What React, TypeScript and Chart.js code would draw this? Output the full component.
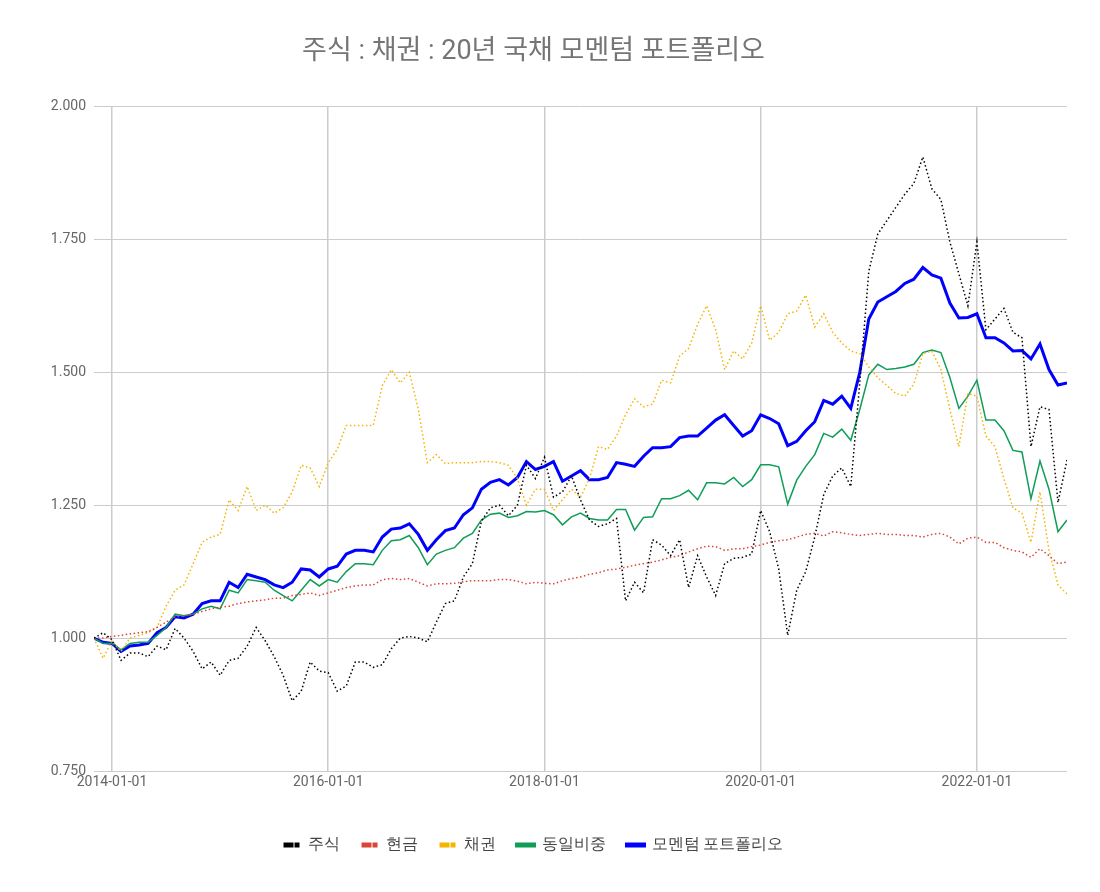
import React, { useEffect, useRef } from "react";
import { Chart, registerables } from "chart.js";
Chart.register(...registerables);

const tickIdx = [2, 26, 50, 74, 98];
const tickLabels = ["2014-01-01", "2016-01-01", "2018-01-01", "2020-01-01", "2022-01-01"];

const stock = [1.0,1.01,.997,.958,.972,.972,.965,.985,.978,1.018,
1.0,.975,.942,.955,.93,.958,.962,.985,1.02,.995,
.965,.93,.882,.9,.955,.938,.935,.9,.91,.955,
.955,.945,.95,.98,1.0,1.003,1.0,.993,1.03,1.065,
1.07,1.115,1.14,1.22,1.245,1.25,1.23,1.25,1.325,1.3,
1.34,1.265,1.275,1.305,1.26,1.222,1.21,1.215,1.225,1.07,
1.105,1.085,1.185,1.175,1.155,1.185,1.095,1.155,1.115,1.08,
1.14,1.15,1.152,1.158,1.24,1.2,1.13,1.005,1.09,1.125,
1.19,1.27,1.305,1.32,1.285,1.48,1.69,1.76,1.785,1.81,
1.835,1.855,1.905,1.845,1.825,1.745,1.685,1.625,1.745,1.58,
1.6,1.62,1.575,1.565,1.36,1.435,1.43,1.255,1.335];
const cash = [1.0,1.0,1.003,1.005,1.008,1.01,1.012,1.02,1.03,1.04,
1.042,1.045,1.05,1.055,1.058,1.06,1.065,1.068,1.07,1.072,
1.075,1.075,1.08,1.082,1.085,1.08,1.085,1.09,1.095,1.098,
1.1,1.1,1.11,1.112,1.11,1.112,1.105,1.098,1.102,1.102,
1.103,1.106,1.108,1.108,1.108,1.11,1.11,1.107,1.102,1.105,
1.103,1.102,1.108,1.112,1.115,1.12,1.123,1.128,1.13,1.133,
1.137,1.14,1.143,1.147,1.152,1.155,1.162,1.168,1.173,1.172,
1.165,1.168,1.168,1.172,1.175,1.18,1.183,1.185,1.19,1.195,
1.197,1.192,1.2,1.198,1.195,1.193,1.195,1.197,1.195,1.195,
1.193,1.193,1.19,1.195,1.197,1.19,1.177,1.188,1.19,1.18,
1.18,1.17,1.165,1.162,1.152,1.168,1.155,1.14,1.143];
const bond = [1.0,.962,.995,.975,1.0,1.005,1.01,1.02,1.06,1.09,
1.1,1.14,1.18,1.19,1.195,1.26,1.24,1.285,1.24,1.25,
1.235,1.245,1.275,1.325,1.32,1.285,1.33,1.355,1.4,1.4,
1.4,1.4,1.475,1.505,1.48,1.5,1.43,1.33,1.345,1.328,
1.33,1.33,1.33,1.332,1.332,1.33,1.325,1.3,1.25,1.28,
1.28,1.24,1.26,1.28,1.265,1.3,1.36,1.355,1.38,1.42,
1.45,1.435,1.44,1.485,1.48,1.53,1.545,1.59,1.625,1.58,
1.505,1.54,1.525,1.555,1.625,1.56,1.575,1.61,1.615,1.645,
1.585,1.61,1.575,1.555,1.54,1.535,1.51,1.49,1.475,1.46,
1.455,1.478,1.535,1.54,1.505,1.43,1.36,1.46,1.455,1.38,
1.36,1.3,1.245,1.235,1.18,1.275,1.165,1.1,1.083];
const equal = [1.0,.99,.99,.978,.99,.992,.992,1.005,1.02,1.045,
1.042,1.045,1.055,1.06,1.055,1.09,1.085,1.11,1.108,1.105,
1.09,1.08,1.07,1.09,1.11,1.098,1.11,1.105,1.125,1.14,
1.14,1.138,1.165,1.183,1.185,1.193,1.17,1.138,1.158,1.165,
1.17,1.188,1.197,1.222,1.233,1.235,1.227,1.23,1.238,1.237,
1.24,1.232,1.213,1.228,1.235,1.225,1.222,1.222,1.242,1.242,
1.203,1.227,1.228,1.262,1.262,1.268,1.278,1.26,1.292,1.292,
1.29,1.302,1.285,1.298,1.326,1.326,1.322,1.252,1.297,1.323,
1.345,1.385,1.378,1.393,1.372,1.43,1.495,1.515,1.505,1.507,
1.51,1.515,1.537,1.542,1.537,1.49,1.432,1.455,1.485,1.41,
1.41,1.39,1.353,1.35,1.262,1.333,1.28,1.2,1.222];
const momentum = [1.0,.992,.99,.975,.985,.987,.99,1.01,1.02,1.04,
1.038,1.045,1.065,1.07,1.07,1.105,1.095,1.12,1.115,1.11,
1.1,1.095,1.105,1.13,1.128,1.115,1.13,1.135,1.158,1.165,
1.165,1.162,1.19,1.205,1.207,1.215,1.195,1.165,1.185,1.202,
1.207,1.232,1.245,1.28,1.293,1.298,1.288,1.302,1.332,1.317,
1.323,1.332,1.295,1.305,1.315,1.298,1.298,1.302,1.33,1.327,
1.323,1.342,1.358,1.358,1.36,1.377,1.38,1.38,1.395,1.41,
1.42,1.4,1.38,1.39,1.42,1.413,1.403,1.362,1.37,1.39,
1.407,1.447,1.44,1.455,1.432,1.5,1.6,1.632,1.642,1.652,
1.667,1.675,1.697,1.683,1.677,1.63,1.602,1.603,1.61,1.565,
1.565,1.555,1.54,1.541,1.525,1.553,1.505,1.476,1.48];

const toPts = (a: number[]) => a.map((y, i) => ({ x: i, y }));

export default function App() {
  const ref = useRef<HTMLCanvasElement>(null);
  useEffect(() => {
    const font = { family: "Roboto", size: 14 };
    const dotted = (label: string, data: number[], color: string) => ({
      label, data: toPts(data), borderColor: color, backgroundColor: color,
      borderWidth: 1.5, borderDash: [1.5, 2.5], pointRadius: 0, tension: 0,
    });
    const chart = new Chart(ref.current!, {
      type: "line",
      data: {
        datasets: [
          dotted("주식", stock, "#000000"),
          dotted("현금", cash, "#db4437"),
          dotted("채권", bond, "#f4b400"),
          { label: "동일비중", data: toPts(equal), borderColor: "#0f9d58", backgroundColor: "#0f9d58", borderWidth: 1.5, pointRadius: 0, tension: 0 },
          { label: "모멘텀 포트폴리오", data: toPts(momentum), borderColor: "#0000ff", backgroundColor: "#0000ff", borderWidth: 3, pointRadius: 0, tension: 0 },
        ],
      },
      options: {
        animation: false,
        responsive: false,
        layout: { padding: { left: 0, right: 33, top: 0, bottom: 29 } },
        plugins: {
          title: { display: true, text: "주식 : 채권 : 20년 국채 모멘텀 포트폴리오", color: "#757575",
            font: { family: "Roboto, 'Noto Sans CJK KR'", size: 27, weight: "normal" }, padding: { top: 36, bottom: 38 } },
          legend: { position: "bottom", labels: { color: "#444", font: { family: "Roboto", size: 16 }, boxWidth: 16, boxHeight: 0.01, padding: 22,
            generateLabels: (c: any) => c.data.datasets.map((d: any, i: number) => ({
              text: d.label, fillStyle: "rgba(0,0,0,0)", strokeStyle: d.borderColor, lineWidth: 5,
              lineDash: i < 3 ? [5, 6] : [], datasetIndex: i, fontColor: "#444",
            })) } },
          tooltip: { enabled: false },
        },
        scales: {
          x: {
            type: "linear", min: 0, max: 108,
            afterBuildTicks: (s: any) => { s.ticks = tickIdx.map((v) => ({ value: v })); },
            afterFit: (s: any) => { s.height = 44; },
            ticks: { color: "#666", font, maxRotation: 0, autoSkip: false,
              callback: (v: any) => tickLabels[tickIdx.indexOf(Number(v))] ?? "" },
            grid: { color: "#cccccc", drawTicks: false, lineWidth: 1.5 },
            border: { display: false },
          },
          y: {
            min: 0.75, max: 2.0,
            afterFit: (s: any) => { s.width = 94; },
            ticks: { stepSize: 0.25, color: "#666", font, padding: 8, callback: (v: any) => Number(v).toFixed(3) },
            grid: { color: "#cccccc", drawTicks: false },
            border: { display: false },
          },
        },
      },
    } as any);
    return () => chart.destroy();
  }, []);
  return (
    <div style={{ position: "fixed", left: 0, top: 0, width: 1100, height: 892, background: "#fff" }}>
      <canvas ref={ref} width={1100} height={892} style={{ width: 1100, height: 892 }} />
    </div>
  );
}
